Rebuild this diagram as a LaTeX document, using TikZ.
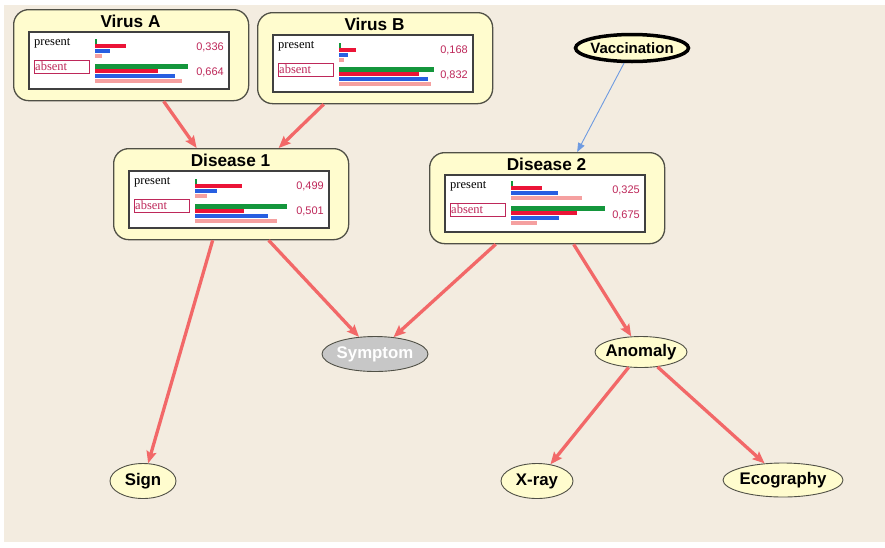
\documentclass[tikz,border=0pt]{standalone}
\usepackage{fontspec}
\setmainfont{Liberation Sans}
\newfontfamily\statefont{Liberation Serif}
\usetikzlibrary{arrows.meta,calc,shapes.geometric}

\definecolor{paper}{RGB}{243,236,224}
\definecolor{nodefill}{RGB}{255,252,206}
\definecolor{frame}{RGB}{80,80,70}
\definecolor{linkred}{RGB}{242,104,104}
\definecolor{vacblue}{RGB}{110,155,225}
\definecolor{bargreen}{RGB}{20,150,60}
\definecolor{barred}{RGB}{235,20,55}
\definecolor{barblue}{RGB}{40,95,225}
\definecolor{barpink}{RGB}{245,160,160}
\definecolor{probred}{RGB}{190,40,90}

% one group of four bars: top y, then green, red, blue, pink lengths
\newcommand{\probbars}[5]{%
  \fill[bargreen] (82,#1) rectangle ++(#2,4.5);
  \fill[barred] (82,#1+4.5) rectangle ++(#3,4.5);
  \fill[barblue] (82,#1+9.5) rectangle ++(#4,4.5);
  \fill[barpink] (82,#1+14.5) rectangle ++(#5,4);}

% a node with its probability table: name, corner, title, p(present), p(absent)
\newcommand{\cptframe}[5]{%
  \node[cptbox, anchor=north west] (#1) at (#2) {};
  \begin{scope}[shift={(#1.north west)}]
    \node[cpttitle] at (117.5,18.5) {#3};
    \draw[innerbox] (16,23) rectangle (216,80);
    \node[statelbl] at (21,36) {present};
    \draw[absbox] (21,51) rectangle (76,64);
    \node[statelbl, text=probred] at (22,61.5) {absent};
    \node[prob] at (211,41) {#4};
    \node[prob] at (211,66) {#5};
  \end{scope}}

\begin{document}
\begin{tikzpicture}[x=1pt,y=-1pt,
  cptbox/.style={draw=frame, line width=1.3pt, fill=nodefill, rounded corners=15pt,
    minimum width=235pt, minimum height=91pt, inner sep=0pt},
  cpttitle/.style={anchor=base, inner sep=0pt, font=\fontsize{17.2}{19}\selectfont\bfseries},
  innerbox/.style={draw=black!75, line width=1.3pt, fill=white},
  absbox/.style={draw=probred, line width=1pt},
  statelbl/.style={anchor=base west, inner sep=0pt, font=\statefont\fontsize{12.5}{14}\selectfont},
  prob/.style={anchor=base east, inner sep=0pt, text=probred, font=\fontsize{11}{13}\selectfont},
  var/.style={ellipse, draw=frame, line width=0.9pt, fill=nodefill, inner sep=0pt,
    font=\fontsize{16.8}{18}\selectfont\bfseries},
  link/.style={draw=linkred, line width=3.3pt, -{Stealth[length=12pt,width=10pt,inset=2pt]}}]

\useasboundingbox (0,0) rectangle (885,547);
\fill[white] (0,0) rectangle (885,547);
\fill[paper] (4,5) rectangle (885,542);

\cptframe{viA}{13,9}{Virus A}{0,336}{0,664}
\cptframe{viB}{257,12}{Virus B}{0,168}{0,832}
\cptframe{dis1}{113,148}{Disease 1}{0,499}{0,501}
\cptframe{dis2}{429,152}{Disease 2}{0,325}{0,675}

\begin{scope}[shift={(viA.north west)}]
  \probbars{30}{1.5}{31}{15}{7}
  \probbars{55}{93}{63}{80}{87}
\end{scope}
\begin{scope}[shift={(viB.north west)}]
  \probbars{31}{1.5}{17}{9}{5}
  \probbars{55}{95}{80}{89}{92}
\end{scope}
\begin{scope}[shift={(dis1.north west)}]
  \probbars{31}{1.5}{47}{22}{12}
  \probbars{56}{92}{49}{73}{82}
\end{scope}
\begin{scope}[shift={(dis2.north west)}]
  \probbars{29}{1.5}{31}{47}{71}
  \probbars{54}{94}{66}{48}{26}
\end{scope}

\node[var, draw=black, line width=3.5pt, minimum width=113pt, minimum height=27pt,
  font=\fontsize{15}{17}\selectfont\bfseries] (vac) at (632,48) {\makebox[0pt]{Vaccination}};
\node[var, fill=black!22, text=white, minimum width=106pt, minimum height=35pt] (sym) at (375,354) {\makebox[0pt]{Symptom}};
\node[var, minimum width=92pt, minimum height=31pt] (anom) at (641,352) {\makebox[0pt]{Anomaly}};
\node[var, minimum width=66pt, minimum height=35pt] (sign) at (143,481) {\makebox[0pt]{Sign}};
\node[var, minimum width=72pt, minimum height=35pt] (xray) at (537,481) {\makebox[0pt]{X-ray}};
\node[var, minimum width=120pt, minimum height=34pt] (ecog) at (783,480) {\makebox[0pt]{Ecography}};

% arcs
\draw[link] ($(viA.south)+(32.5,0)$) -- ($(dis1.north)+(-34.5,0)$);
\draw[link] ($(viB.south)+(-51.5,0)$) -- ($(dis1.north)+(47.5,0)$);
\draw[vacblue, line width=0.9pt, -{Triangle[length=9pt,width=7pt]}] (vac) -- ($(dis2.north)+(30,0)$);
\draw[link] ($(dis1.south)+(-18.5,0)$) -- (sign);
\draw[link] ($(dis1.south)+(37.5,0)$) -- (sym);
\draw[link] ($(dis2.south)+(-51.5,0)$) -- (sym);
\draw[link] ($(dis2.south)+(26.5,0)$) -- (anom);
\draw[link] (anom) -- (xray);
\draw[link] (anom) -- (ecog);
\end{tikzpicture}
\end{document}
